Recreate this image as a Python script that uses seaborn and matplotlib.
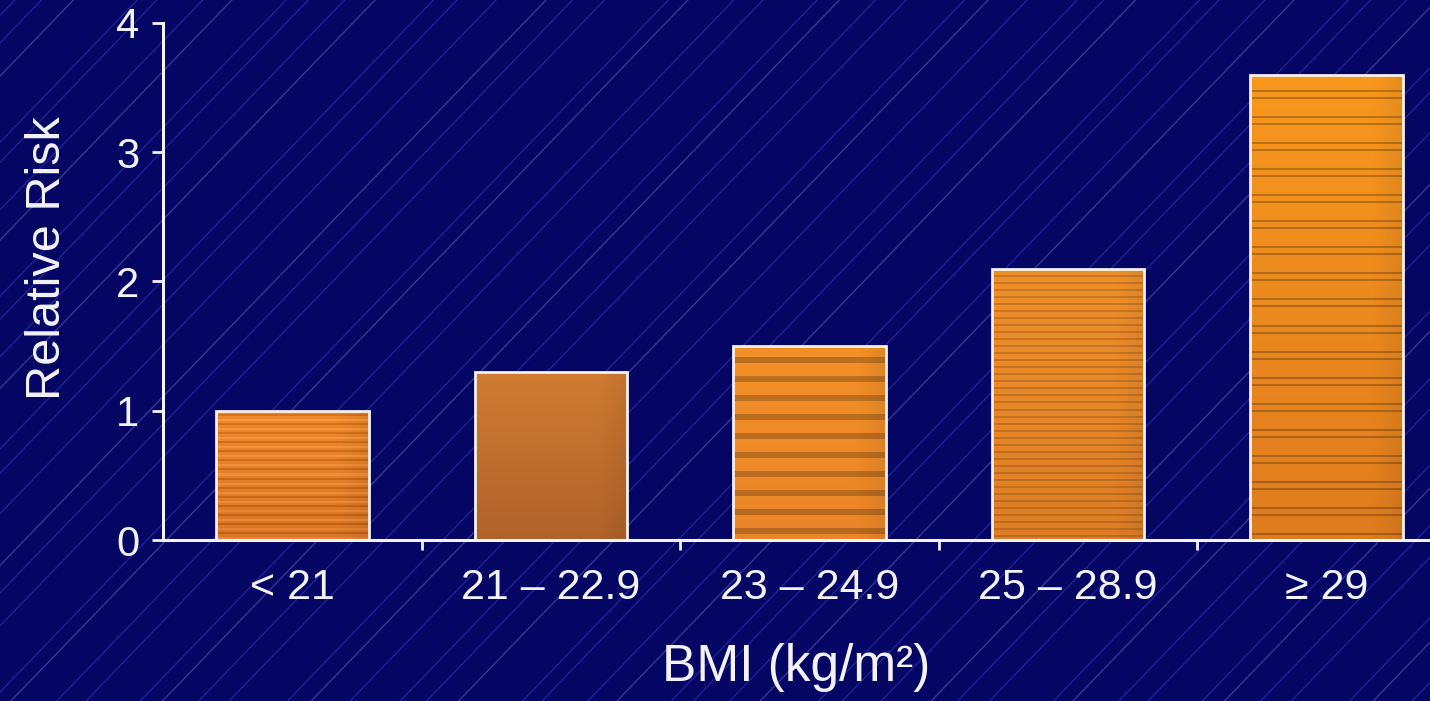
import numpy as np
import pandas as pd
import matplotlib
matplotlib.use("Agg")
import matplotlib.pyplot as plt
from matplotlib.lines import Line2D
from matplotlib.transforms import IdentityTransform
import seaborn as sns

# Relative risk by BMI category
bmi_groups = ["< 21", "21 \u2013 22.9", "23 \u2013 24.9", "25 \u2013 28.9", "\u2265 29"]
relative_risk = [1.0, 1.3, 1.5, 2.1, 3.6]
y_ticks = [0, 1, 2, 3, 4]
x_label = "BMI (kg/m\u00b2)"
y_label = "Relative Risk"

NAVY = "#050563"
INK = "#f2f2fa"

sns.set_theme(style="white")
plt.rcParams["font.family"] = ["Liberation Sans", "DejaVu Sans"]

W_PX, H_PX, DPI = 1430, 701, 100
fig = plt.figure(figsize=(W_PX / DPI, H_PX / DPI), dpi=DPI, facecolor=NAVY)

# faint diagonal streaks across the slide background
angle = np.deg2rad(46)
dx, dy = np.cos(angle), np.sin(angle)
nx, ny = -dy, dx
gaps = [26, 16, 39, 21, 33, 14, 46, 23, 19, 36, 28, 17, 42, 22]
offs = [-1400.0]
k = 0
while offs[-1] < 1400:
    offs.append(offs[-1] + gaps[k % len(gaps)])
    k += 1
cx, cy = W_PX / 2, H_PX / 2
for j, o in enumerate(offs):
    px, py = cx + nx * o, cy + ny * o
    L = 2000
    bright = (j % 4 == 1)
    fig.add_artist(Line2D([px - dx * L, px + dx * L], [py - dy * L, py + dy * L],
                          transform=IdentityTransform(),
                          color="#8080e0" if bright else "#3030b4",
                          alpha=0.40 if bright else 0.65,
                          lw=1.0, zorder=-5))

ax = fig.add_axes([163 / W_PX, 161 / H_PX, 1293 / W_PX, 517 / H_PX])
ax.set_facecolor("none")

df = pd.DataFrame({"bmi": bmi_groups, "rr": relative_risk})
sns.barplot(data=df, x="bmi", y="rr", ax=ax, width=0.59, color="#e0812e",
            saturation=1, linewidth=0, zorder=2)

ax.set_xlim(-0.5, len(bmi_groups) - 0.5)
ax.set_ylim(0, 4)


def texture(kind, h, w):
    r = np.arange(h)[:, None] / max(h - 1, 1)
    c = np.arange(w)[None, :] / max(w - 1, 1)
    rows = np.arange(h)[:, None]
    if kind == 0:
        top, bot = np.array([238, 138, 46]), np.array([216, 118, 40])
    elif kind == 1:
        top, bot = np.array([208, 124, 50]), np.array([176, 98, 42])
    elif kind == 2:
        top, bot = np.array([244, 144, 40]), np.array([234, 134, 40])
    elif kind == 3:
        top, bot = np.array([240, 144, 42]), np.array([222, 126, 38])
    else:
        top, bot = np.array([248, 152, 30]), np.array([222, 124, 30])
    img = top[None, None, :] * (1 - r[..., None]) + bot[None, None, :] * r[..., None]
    img = img * np.ones((1, w, 1))
    shade = 1 - 0.07 * np.clip((c - 0.8) / 0.2, 0, 1)
    img = img * shade[..., None]
    if kind == 0:
        m = rows % 9
        img = img + np.where(m < 2, 14, 0)[..., None] - np.where((m >= 4) & (m < 6), 22, 0)[..., None]
    elif kind == 2:
        m = (rows + 8) % 19
        img = np.where((m < 6)[..., None], img * 0.78, img)
    elif kind == 3:
        m = rows % 7
        img = np.where((m < 2)[..., None], img * 0.84, img)
    elif kind == 4:
        m = (rows - 16) % 26
        line = ((m < 2) | ((m >= 7) & (m < 9))) & (rows >= 16)
        img = np.where(line[..., None], img * 0.76, img)
    return np.clip(img, 0, 255) / 255.0


to_px = ax.transData
for i, bar in enumerate(ax.patches):
    x0, y0 = bar.get_x(), bar.get_y()
    bw, bh = bar.get_width(), bar.get_height()
    (p0x, p0y), (p1x, p1y) = to_px.transform([(x0, y0), (x0 + bw, y0 + bh)])
    hpx, wpx = max(int(round(p1y - p0y)), 2), max(int(round(p1x - p0x)), 2)
    im = ax.imshow(texture(i, hpx, wpx), extent=(x0, x0 + bw, y0, y0 + bh),
                   origin="upper", aspect="auto", interpolation="nearest", zorder=2.5)
    im.set_clip_path(bar)
    bar.set_facecolor("none")
    bar.set_edgecolor("#f4f0ee")
    bar.set_linewidth(2.0)
    bar.set_zorder(3)

ax.set_xlim(-0.5, len(bmi_groups) - 0.5)
ax.set_ylim(0, 4)
ax.set_yticks(y_ticks)
ax.set_xticks(range(len(bmi_groups)))
ax.set_xticklabels(bmi_groups)
ax.set_xticks(np.arange(0.5, len(bmi_groups) - 1, 1.0), minor=True)

for s in ("top", "right"):
    ax.spines[s].set_visible(False)
for s in ("left", "bottom"):
    ax.spines[s].set_color(INK)
    ax.spines[s].set_linewidth(2.2)
    ax.spines[s].set_zorder(4)

ax.tick_params(axis="y", which="major", length=8, width=2, color=INK,
               labelcolor=INK, labelsize=30, pad=9, left=True)
ax.tick_params(axis="x", which="major", length=0, labelcolor=INK,
               labelsize=31, pad=20, bottom=True)
ax.tick_params(axis="x", which="minor", length=7, width=2, color=INK,
               direction="out", bottom=True)

ax.set_xlabel(x_label, fontsize=37, color=INK)
ax.set_ylabel(y_label, fontsize=35, color=INK)
ax.xaxis.set_label_coords(0.49, -0.2)
ax.yaxis.set_label_coords(-0.072, 0.545)

fig.savefig("out.png", dpi=DPI, facecolor=NAVY)
